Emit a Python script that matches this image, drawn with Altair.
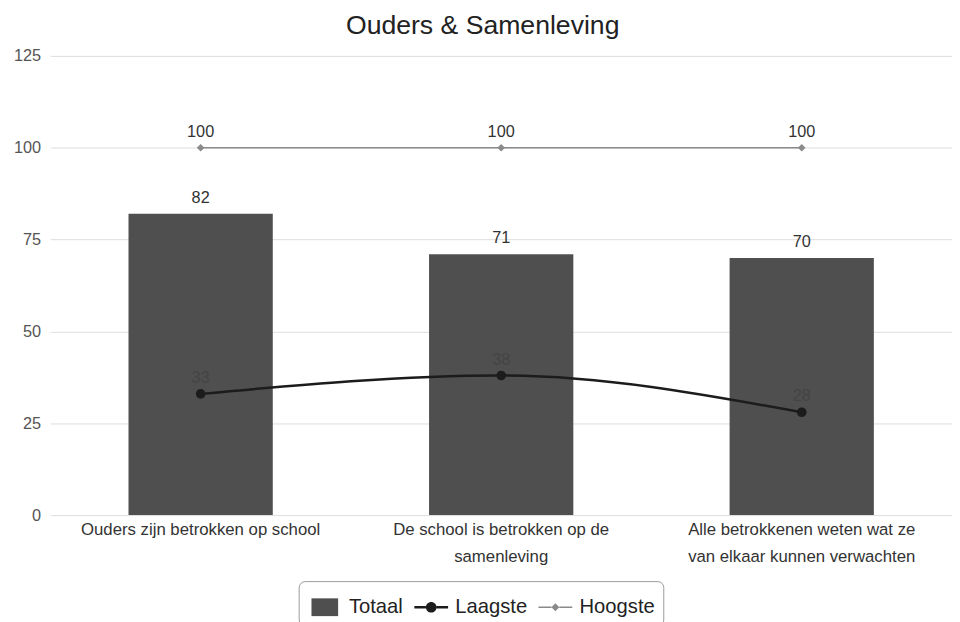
import altair as alt
import pandas as pd

categories = [
    "Ouders zijn betrokken op school",
    "De school is betrokken op de samenleving",
    "Alle betrokkenen weten wat ze van elkaar kunnen verwachten",
]
label_lines = [
    ["Ouders zijn betrokken op school"],
    ["De school is betrokken op de", "samenleving"],
    ["Alle betrokkenen weten wat ze", "van elkaar kunnen verwachten"],
]
totaal = [82, 71, 70]
laagste = [33, 38, 28]
hoogste = [100, 100, 100]
series = ["Totaal", "Laagste", "Hoogste"]
y_ticks = [0, 25, 50, 75, 100, 125]

colors = ["#4f4f4f", "#1c1c1c", "#8a8a8a"]
sq = "M-0.75,-0.5L0.75,-0.5L0.75,0.5L-0.75,0.5Z"
circ = ("M-0.3,0A0.3,0.3 0 1,0 0.3,0A0.3,0.3 0 1,0 -0.3,0Z"
        "M-0.95,-0.07L-0.3,-0.07L-0.3,0.07L-0.95,0.07Z M0.3,-0.07L0.95,-0.07L0.95,0.07L0.3,0.07Z")
diam = ("M-0.22,0L0,-0.22L0.22,0L0,0.22Z"
        "M-0.95,-0.04L-0.22,-0.04L-0.22,0.04L-0.95,0.04Z M0.22,-0.04L0.95,-0.04L0.95,0.04L0.22,0.04Z")
shapes = [sq, circ, diam]

df = pd.DataFrame({"cat": categories, "Totaal": totaal, "Laagste": laagste, "Hoogste": hoogste})
# legend-only rows, placed outside the y domain and clipped away
leg_df = pd.DataFrame({"cat": [categories[0]] * 3, "series": series, "v": [-80, -80, -80]})

parts = []
for c, lines in zip(categories, label_lines):
    arr = "[" + ",".join("'" + l + "'" for l in lines) + "]"
    parts.append(f"datum.value == '{c}' ? {arr} : ")
label_expr = "".join(parts) + "datum.label"

FONT = "Liberation Sans"

x = alt.X("cat:N", sort=categories, title=None,
          scale=alt.Scale(paddingInner=0.52, paddingOuter=0.26),
          axis=alt.Axis(labelAngle=0, labelExpr=label_expr, labelFontSize=17,
                        labelColor="#333", labelFont=FONT, labelPadding=7,
                        domain=False, ticks=False, grid=False, labelLineHeight=27,
                        labelLimit=320))
yscale = alt.Scale(domain=[0, 125], nice=False)
yaxis = alt.Axis(values=y_ticks, title=None, domain=False, ticks=False, labelFontSize=16.5,
                 labelColor="#555", labelFont=FONT, labelPadding=10,
                 gridColor="#dcdcdc", gridWidth=1, minExtent=35, maxExtent=35)

base = alt.Chart(df)

bars = base.mark_bar(color=colors[0]).encode(
    x=x, y=alt.Y("Totaal:Q", scale=yscale, axis=yaxis))
bar_lbl = base.mark_text(dy=-16, fontSize=16.5, color="#333", font=FONT).encode(
    x=x, y=alt.Y("Totaal:Q", scale=yscale), text="Totaal:Q")

low_line = base.mark_line(color=colors[1], strokeWidth=2.5, interpolate="monotone").encode(
    x=x, y=alt.Y("Laagste:Q", scale=yscale))
low_pts = base.mark_point(shape="circle", filled=True, size=95, color=colors[1], opacity=1).encode(
    x=x, y=alt.Y("Laagste:Q", scale=yscale))
low_lbl = base.mark_text(dy=-16, fontSize=16.5, color="#444444", font=FONT).encode(
    x=x, y=alt.Y("Laagste:Q", scale=yscale), text="Laagste:Q")

high_line = base.mark_line(color=colors[2], strokeWidth=1.5).encode(
    x=x, y=alt.Y("Hoogste:Q", scale=yscale))
high_pts = base.mark_point(shape="diamond", filled=True, size=60, color=colors[2], opacity=1).encode(
    x=x, y=alt.Y("Hoogste:Q", scale=yscale))
high_lbl = base.mark_text(dy=-16, fontSize=16.5, color="#333", font=FONT).encode(
    x=x, y=alt.Y("Hoogste:Q", scale=yscale), text="Hoogste:Q")

legend_layer = alt.Chart(leg_df).mark_point(filled=True, clip=True, opacity=1).encode(
    x=x,
    y=alt.Y("v:Q", scale=yscale),
    color=alt.Color("series:N", sort=series,
                    scale=alt.Scale(domain=series, range=colors),
                    legend=alt.Legend(title=None, orient="none", direction="horizontal",
                                      legendX=252, legendY=533, symbolSize=1300,
                                      symbolOpacity=1, labelFontSize=20.5, labelColor="#222",
                                      labelFont=FONT, columnPadding=10,
                                      symbolStrokeWidth=0,
                                      strokeColor="#9a9a9a", cornerRadius=6, padding=8,
                                      labelOffset=6)),
    shape=alt.Shape("series:N", sort=series,
                    scale=alt.Scale(domain=series, range=shapes)),
)

chart = alt.layer(bars, bar_lbl, high_line, high_pts, high_lbl,
                  low_line, low_pts, low_lbl, legend_layer).properties(
    width=915, height=466,
    title=alt.TitleParams("Ouders & Samenleving", fontSize=27, font=FONT,
                          fontWeight="normal", color="#222", offset=8, anchor="middle",
                          frame="bounds"),
    padding={"left": 5, "top": 0, "right": 0, "bottom": 0},
).configure_view(stroke=None)

chart.save("out.html", embed_options={"renderer": "svg", "actions": False})
